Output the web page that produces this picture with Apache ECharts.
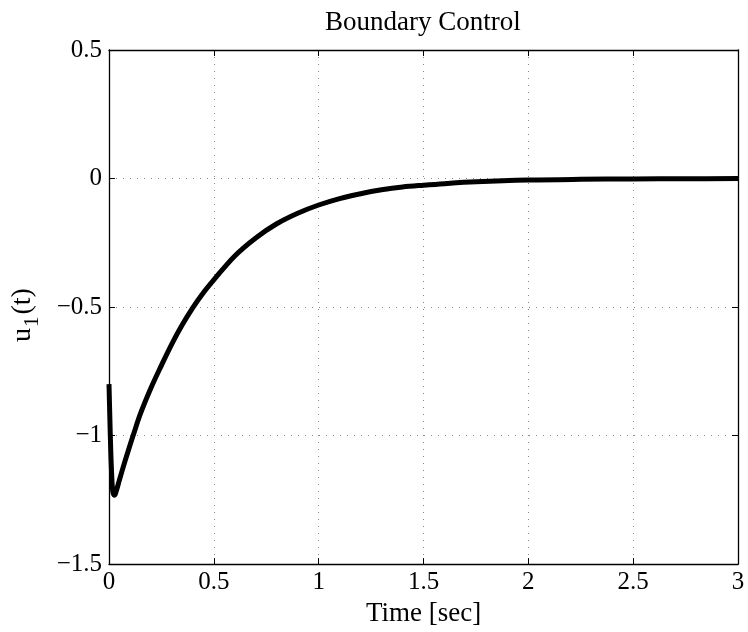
<!DOCTYPE html>
<html>
<head>
<meta charset="utf-8">
<script src="https://cdn.jsdelivr.net/npm/echarts@6/dist/echarts.min.js"></script>
<style>html,body{margin:0;padding:0;background:#fff}#c{width:748px;height:632px}</style>
</head>
<body>
<div id="c"></div>
<script>
const titleText = 'Boundary Control';
const xName = 'Time [sec]';
const xTicks = [0, 0.5, 1, 1.5, 2, 2.5, 3];
const yTicks = [-1.5, -1, -0.5, 0, 0.5];
const timeSec = [0, 0.004, 0.008, 0.012, 0.016, 0.02, 0.027, 0.035, 0.05, 0.075, 0.1, 0.115, 0.15, 0.2, 0.25, 0.3, 0.35, 0.4, 0.45, 0.5, 0.6, 0.7, 0.8, 0.9, 1.0, 1.1, 1.2, 1.3, 1.4, 1.5, 1.6, 1.75, 2.0, 2.25, 2.5, 2.75, 3.0];
const u1 = [-0.80, -0.93, -1.05, -1.14, -1.20, -1.225, -1.232, -1.215, -1.172, -1.103, -1.038, -1.0, -0.915, -0.815, -0.727, -0.643, -0.568, -0.502, -0.444, -0.394, -0.301, -0.231, -0.176, -0.135, -0.103, -0.078, -0.059, -0.044, -0.033, -0.026, -0.02, -0.013, -0.006, -0.003, -0.0015, -0.0007, -0.0003];

const fmt = v => (v < 0 ? '\u2212' + Math.abs(v) : String(v));
const font = 'Liberation Serif';
const chart = echarts.init(document.getElementById('c'));
const axisLine = { show: true, onZero: false, lineStyle: { color: '#000', width: 1.3 } };
const grid = { left: 109, right: 10, top: 50, bottom: 67 };
chart.setOption({
  animation: false,
  backgroundColor: '#fff',
  title: { text: titleText, left: 325, top: 9, padding: 0, textStyle: { fontFamily: font, fontSize: 27, fontWeight: 'normal', color: '#000' } },
  grid: grid,
  xAxis: [{
    type: 'value', min: xTicks[0], max: xTicks[xTicks.length - 1], interval: 0.5,
    name: xName, nameLocation: 'middle', nameGap: 33,
    nameTextStyle: { fontFamily: font, fontSize: 27, color: '#000' },
    axisLine: axisLine,
    axisTick: { show: true, inside: true, length: 6, lineStyle: { color: '#000' } },
    axisLabel: { fontFamily: font, fontSize: 25, color: '#000', margin: 6, formatter: fmt },
    splitLine: { show: true, lineStyle: { color: '#888', type: [1, 6], width: 1 } }
  }, {
    type: 'value', position: 'top', min: xTicks[0], max: xTicks[xTicks.length - 1], interval: 0.5,
    axisLine: axisLine,
    axisTick: { show: true, inside: true, length: 6, lineStyle: { color: '#000' } },
    axisLabel: { show: false }, splitLine: { show: false }
  }],
  yAxis: [{
    type: 'value', min: yTicks[0], max: yTicks[yTicks.length - 1], interval: 0.5,
    name: '{a|u}{b|1}{a|(t)}', nameLocation: 'middle', nameGap: 66,
    nameTextStyle: { fontFamily: font, fontSize: 28, color: '#000', padding: [0, 16, 0, 0],
      rich: { a: { fontFamily: font, fontSize: 28, color: '#000', verticalAlign: 'middle' },
              b: { fontFamily: font, fontSize: 21, color: '#000', verticalAlign: 'middle', padding: [20, 2, 0, 1] } } },
    axisLine: axisLine,
    axisTick: { show: true, inside: true, length: 6, lineStyle: { color: '#000' } },
    axisLabel: { fontFamily: font, fontSize: 25, color: '#000', margin: 7, formatter: fmt },
    splitLine: { show: true, lineStyle: { color: '#888', type: [1, 6], width: 1 } }
  }, {
    type: 'value', position: 'right', min: yTicks[0], max: yTicks[yTicks.length - 1], interval: 0.5,
    axisLine: axisLine,
    axisTick: { show: true, inside: true, length: 6, lineStyle: { color: '#000' } },
    axisLabel: { show: false }, splitLine: { show: false }
  }],
  series: [{
    type: 'line', xAxisIndex: 0, yAxisIndex: 0,
    data: timeSec.map((t, i) => [t, u1[i]]),
    showSymbol: false, smooth: 0.35,
    lineStyle: { color: '#000', width: 5 }
  }]
});
</script>
</body>
</html>
